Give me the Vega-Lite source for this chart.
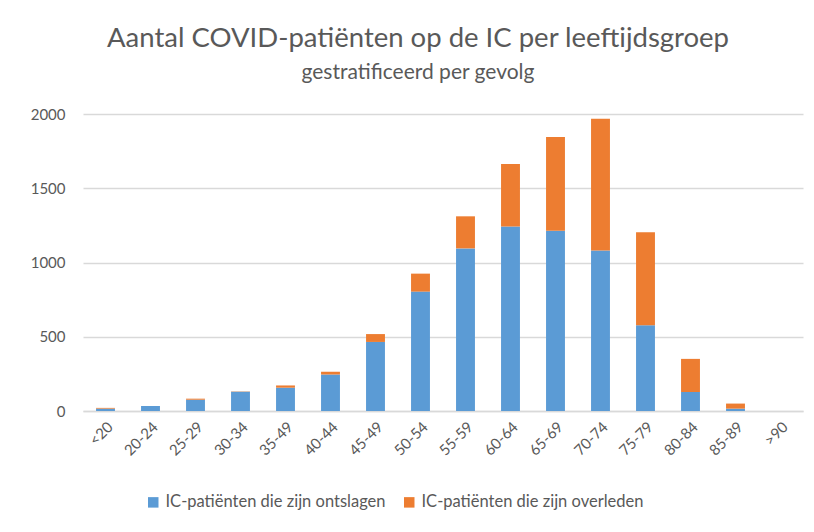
{
  "$schema": "https://vega.github.io/schema/vega-lite/v6.json",
  "width": 720,
  "height": 297,
  "autosize": {"type": "none"},
  "padding": {"left": 83, "top": 114, "right": 11, "bottom": 121},
  "background": "white",
  "title": {
    "text": "Aantal COVID-patiënten op de IC per leeftijdsgroep",
    "subtitle": "gestratificeerd per gevolg",
    "anchor": "middle",
    "dx": -25,
    "offset": 24,
    "font": "Lato",
    "fontSize": 27.5,
    "fontWeight": "normal",
    "color": "#595959",
    "subtitleFont": "Lato",
    "subtitleFontSize": 21,
    "subtitleColor": "#595959",
    "subtitlePadding": 10
  },
  "data": {
    "values": [
      {"leeftijd": "<20", "gevolg": "IC-patiënten die zijn ontslagen", "aantal": 16},
      {"leeftijd": "<20", "gevolg": "IC-patiënten die zijn overleden", "aantal": 5},
      {"leeftijd": "20-24", "gevolg": "IC-patiënten die zijn ontslagen", "aantal": 33},
      {"leeftijd": "20-24", "gevolg": "IC-patiënten die zijn overleden", "aantal": 1},
      {"leeftijd": "25-29", "gevolg": "IC-patiënten die zijn ontslagen", "aantal": 76},
      {"leeftijd": "25-29", "gevolg": "IC-patiënten die zijn overleden", "aantal": 7},
      {"leeftijd": "30-34", "gevolg": "IC-patiënten die zijn ontslagen", "aantal": 130},
      {"leeftijd": "30-34", "gevolg": "IC-patiënten die zijn overleden", "aantal": 2},
      {"leeftijd": "35-49", "gevolg": "IC-patiënten die zijn ontslagen", "aantal": 157},
      {"leeftijd": "35-49", "gevolg": "IC-patiënten die zijn overleden", "aantal": 15},
      {"leeftijd": "40-44", "gevolg": "IC-patiënten die zijn ontslagen", "aantal": 245},
      {"leeftijd": "40-44", "gevolg": "IC-patiënten die zijn overleden", "aantal": 19},
      {"leeftijd": "45-49", "gevolg": "IC-patiënten die zijn ontslagen", "aantal": 465},
      {"leeftijd": "45-49", "gevolg": "IC-patiënten die zijn overleden", "aantal": 53},
      {"leeftijd": "50-54", "gevolg": "IC-patiënten die zijn ontslagen", "aantal": 804},
      {"leeftijd": "50-54", "gevolg": "IC-patiënten die zijn overleden", "aantal": 121},
      {"leeftijd": "55-59", "gevolg": "IC-patiënten die zijn ontslagen", "aantal": 1095},
      {"leeftijd": "55-59", "gevolg": "IC-patiënten die zijn overleden", "aantal": 216},
      {"leeftijd": "60-64", "gevolg": "IC-patiënten die zijn ontslagen", "aantal": 1243},
      {"leeftijd": "60-64", "gevolg": "IC-patiënten die zijn overleden", "aantal": 421},
      {"leeftijd": "65-69", "gevolg": "IC-patiënten die zijn ontslagen", "aantal": 1214},
      {"leeftijd": "65-69", "gevolg": "IC-patiënten die zijn overleden", "aantal": 631},
      {"leeftijd": "70-74", "gevolg": "IC-patiënten die zijn ontslagen", "aantal": 1081},
      {"leeftijd": "70-74", "gevolg": "IC-patiënten die zijn overleden", "aantal": 887},
      {"leeftijd": "75-79", "gevolg": "IC-patiënten die zijn ontslagen", "aantal": 577},
      {"leeftijd": "75-79", "gevolg": "IC-patiënten die zijn overleden", "aantal": 626},
      {"leeftijd": "80-84", "gevolg": "IC-patiënten die zijn ontslagen", "aantal": 128},
      {"leeftijd": "80-84", "gevolg": "IC-patiënten die zijn overleden", "aantal": 223},
      {"leeftijd": "85-89", "gevolg": "IC-patiënten die zijn ontslagen", "aantal": 16},
      {"leeftijd": "85-89", "gevolg": "IC-patiënten die zijn overleden", "aantal": 34},
      {"leeftijd": ">90", "gevolg": "IC-patiënten die zijn ontslagen", "aantal": 0},
      {"leeftijd": ">90", "gevolg": "IC-patiënten die zijn overleden", "aantal": 0}
    ]
  },
  "mark": {"type": "bar"},
  "encoding": {
    "x": {
      "field": "leeftijd",
      "type": "nominal",
      "sort": null,
      "title": null,
      "scale": {"paddingInner": 0.58, "paddingOuter": 0.29},
      "axis": {
        "labelAngle": -45,
        "labelFont": "Lato",
        "labelFontSize": 15,
        "labelColor": "#595959",
        "labelPadding": 8,
        "ticks": false,
        "domainColor": "#d9d9d9",
        "domainWidth": 1.5,
        "grid": false
      }
    },
    "y": {
      "field": "aantal",
      "type": "quantitative",
      "stack": "zero",
      "title": null,
      "scale": {"domain": [0, 2000], "nice": false},
      "axis": {
        "values": [0, 500, 1000, 1500, 2000],
        "format": "d",
        "labelFont": "Lato",
        "labelFontSize": 15,
        "labelColor": "#595959",
        "labelPadding": 18,
        "ticks": false,
        "domain": false,
        "gridColor": "#d9d9d9",
        "gridWidth": 1.5
      }
    },
    "order": {"field": "gevolg", "type": "nominal", "sort": "ascending"},
    "color": {
      "field": "gevolg",
      "type": "nominal",
      "scale": {
        "domain": ["IC-patiënten die zijn ontslagen", "IC-patiënten die zijn overleden"],
        "range": ["#5B9BD5", "#ED7D31"]
      },
      "legend": {
        "title": null,
        "orient": "none",
        "direction": "horizontal",
        "legendX": 62,
        "legendY": 380,
        "symbolType": "square",
        "symbolSize": 110,
        "symbolStrokeWidth": 0,
        "labelFont": "Lato",
        "labelFontSize": 16.5,
        "labelColor": "#595959",
        "labelLimit": 400,
        "columnPadding": 15,
        "labelOffset": 4
      }
    }
  },
  "config": {"view": {"stroke": null}}
}
